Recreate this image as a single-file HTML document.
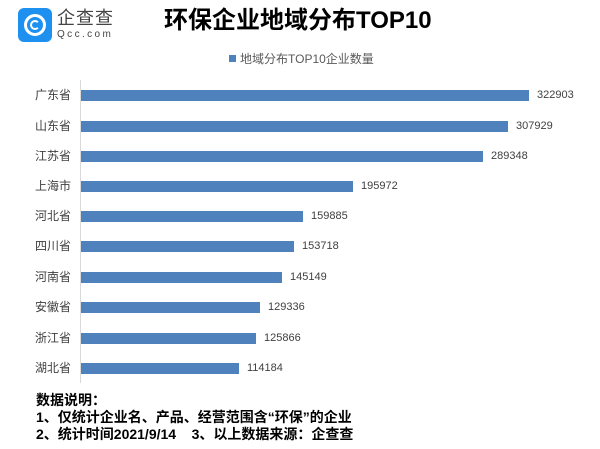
<!DOCTYPE html>
<html><head><meta charset="utf-8"><style>
body{margin:0;width:600px;height:449px;background:#fff;position:relative;overflow:hidden;font-family:"Liberation Sans","Noto Sans CJK SC",sans-serif}
.a{position:absolute;white-space:nowrap}
.lab{position:absolute;right:529px;font-size:12px;color:#404040;line-height:14px}
.bar{position:absolute;left:81px;height:11px;background:#4f81bd}
.val{position:absolute;font-size:11px;color:#404040;line-height:14px}
.n{font-weight:bold;font-size:14px;color:#000;line-height:17px}
</style></head><body>
<div class="a" style="left:18px;top:8px;width:34px;height:34px;background:#1e90f0;border-radius:6px"></div>
<div class="a" style="left:24px;top:14px;width:16px;height:16px;border:3px solid #fff;border-radius:50%"></div>
<div class="a" style="left:30px;top:20px;width:6px;height:6px;border:2px solid #fff;border-radius:50%;border-right-color:transparent"></div>
<div class="a" style="left:57px;top:7px;font-size:18px;color:#444;letter-spacing:1px;line-height:22px">企查查</div>
<div class="a" style="left:57px;top:29px;font-size:10px;color:#444;letter-spacing:2.4px;line-height:12px">Qcc.com</div>
<div class="a" style="left:164px;top:7px;font-size:24px;font-weight:bold;color:#000;line-height:28px">环保企业地域分布TOP10</div>
<div class="a" style="left:229px;top:55px;width:7px;height:7px;background:#4f81bd"></div>
<div class="a" style="left:240px;top:51px;font-size:12px;color:#595959;line-height:16px">地域分布TOP10企业数量</div>
<div class="a" style="left:80px;top:80px;width:1px;height:303px;background:#d9d9d9"></div>
<div class="lab" style="top:88px">广东省</div><div class="bar" style="top:90px;width:448px"></div><div class="val" style="left:537px;top:88px">322903</div>
<div class="lab" style="top:119px">山东省</div><div class="bar" style="top:121px;width:427px"></div><div class="val" style="left:516px;top:119px">307929</div>
<div class="lab" style="top:149px">江苏省</div><div class="bar" style="top:151px;width:402px"></div><div class="val" style="left:491px;top:149px">289348</div>
<div class="lab" style="top:179px">上海市</div><div class="bar" style="top:181px;width:272px"></div><div class="val" style="left:361px;top:179px">195972</div>
<div class="lab" style="top:209px">河北省</div><div class="bar" style="top:211px;width:222px"></div><div class="val" style="left:311px;top:209px">159885</div>
<div class="lab" style="top:239px">四川省</div><div class="bar" style="top:241px;width:213px"></div><div class="val" style="left:302px;top:239px">153718</div>
<div class="lab" style="top:270px">河南省</div><div class="bar" style="top:272px;width:201px"></div><div class="val" style="left:290px;top:270px">145149</div>
<div class="lab" style="top:300px">安徽省</div><div class="bar" style="top:302px;width:179px"></div><div class="val" style="left:268px;top:300px">129336</div>
<div class="lab" style="top:331px">浙江省</div><div class="bar" style="top:333px;width:175px"></div><div class="val" style="left:264px;top:331px">125866</div>
<div class="lab" style="top:361px">湖北省</div><div class="bar" style="top:363px;width:158px"></div><div class="val" style="left:247px;top:361px">114184</div>
<div class="a n" style="left:36px;top:392px">数据说明：</div>
<div class="a n" style="left:36px;top:409px">1、仅统计企业名、产品、经营范围含“环保”的企业</div>
<div class="a n" style="left:36px;top:426px">2、统计时间2021/9/14&nbsp;&nbsp;&nbsp;&nbsp;3、以上数据来源：企查查</div>
</body></html>
